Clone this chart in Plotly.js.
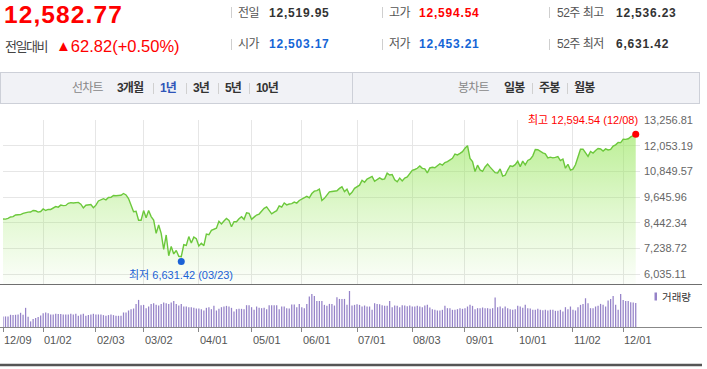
<!DOCTYPE html>
<html><head><meta charset="utf-8">
<script src="https://cdn.plot.ly/plotly-3.0.1.min.js"></script>
<style>
html,body{margin:0;padding:0;background:#fff;width:707px;height:369px;overflow:hidden;}
#chart{position:absolute;left:0;top:0;width:707px;height:369px;}
.t{position:absolute;white-space:nowrap;line-height:1;font-family:"Liberation Sans","Noto Sans CJK KR",sans-serif;z-index:5;}
.sep{position:absolute;width:1px;background:#cfcfcf;z-index:5;}
.lab{font-size:12px;color:#555;letter-spacing:-0.5px;}
.val{font-size:12px;font-weight:bold;letter-spacing:0.8px;}
#tabs{position:absolute;left:0;top:72px;width:700px;height:32px;box-sizing:border-box;background:#f1f2f6;border:1px solid #cdd0d8;z-index:4;}
.tab{font-size:12px;font-weight:bold;color:#333;letter-spacing:-0.8px;}
.tabg{font-size:12px;color:#888;letter-spacing:-0.8px;}
</style></head><body>
<div id="chart"></div>
<div id="header"></div>
<div id="tabs"></div>
<script>
// ---------- header values ----------
const lastPrice = "12,582.77";
const changeText = "62.82(+0.50%)";
const prevClose = "12,519.95";
const openPrice = "12,503.17";
const dayHigh = "12,594.54";
const dayLow = "12,453.21";
const high52 = "12,536.23";
const low52 = "6,631.42";
const rangeTabs = ["3개월", "1년", "3년", "5년", "10년"];
const candleTabs = ["일봉", "주봉", "월봉"];

// ---------- chart data ----------
const dates = [
"12/09","12/10","12/11","12/12","12/13","12/16","12/17","12/18","12/19","12/20","12/23","12/24","12/26","12/27","12/30","12/31",
"01/02","01/03","01/06","01/07","01/08","01/09","01/10","01/13","01/14","01/15","01/16","01/17","01/21","01/22","01/23","01/24","01/27","01/28","01/29","01/30","01/31",
"02/03","02/04","02/05","02/06","02/07","02/10","02/11","02/12","02/13","02/14","02/18","02/19","02/20","02/21","02/24","02/25","02/26","02/27","02/28",
"03/02","03/03","03/04","03/05","03/06","03/09","03/10","03/11","03/12","03/13","03/16","03/17","03/18","03/19","03/20","03/23","03/24","03/25","03/26","03/27","03/30","03/31",
"04/01","04/02","04/03","04/06","04/07","04/08","04/09","04/13","04/14","04/15","04/16","04/17","04/20","04/21","04/22","04/23","04/24","04/27","04/28","04/29","04/30",
"05/01","05/04","05/05","05/06","05/07","05/08","05/11","05/12","05/13","05/14","05/15","05/18","05/19","05/20","05/21","05/22","05/26","05/27","05/28","05/29",
"06/01","06/02","06/03","06/04","06/05","06/08","06/09","06/10","06/11","06/12","06/15","06/16","06/17","06/18","06/19","06/22","06/23","06/24","06/25","06/26","06/29","06/30",
"07/01","07/02","07/06","07/07","07/08","07/09","07/10","07/13","07/14","07/15","07/16","07/17","07/20","07/21","07/22","07/23","07/24","07/27","07/28","07/29","07/30","07/31",
"08/03","08/04","08/05","08/06","08/07","08/10","08/11","08/12","08/13","08/14","08/17","08/18","08/19","08/20","08/21","08/24","08/25","08/26","08/27","08/28","08/31",
"09/01","09/02","09/03","09/04","09/08","09/09","09/10","09/11","09/14","09/15","09/16","09/17","09/18","09/21","09/22","09/23","09/24","09/25","09/28","09/29","09/30",
"10/01","10/02","10/05","10/06","10/07","10/08","10/09","10/12","10/13","10/14","10/15","10/16","10/19","10/20","10/21","10/22","10/23","10/26","10/27","10/28","10/29","10/30",
"11/02","11/03","11/04","11/05","11/06","11/09","11/10","11/11","11/12","11/13","11/16","11/17","11/18","11/19","11/20","11/23","11/24","11/25","11/27","11/30",
"12/01","12/02","12/03","12/04","12/07","12/08"];

const closes = [
8621,8616,8654,8717,8735,8814,8823,8827,8887,8925,8945,8952,9022,9007,8945,8973,
9093,9021,9071,9069,9129,9203,9179,9274,9251,9259,9357,9389,9370,9383,9402,9315,9139,9270,9275,9298,9151,
9273,9467,9509,9572,9520,9628,9638,9726,9711,9731,9733,9817,9751,9577,9221,8966,8980,8566,8567,
9018,8684,9019,8738,8576,7950,8344,7952,7201,7875,6905,7335,6990,7150,6880,6861,7418,7385,7798,7502,7774,7700,
7360,7487,7374,7913,7887,8091,8153,8193,8516,8394,8533,8650,8561,8263,8495,8494,8634,8730,8607,8915,8890,
8605,8711,8810,8855,8979,9121,9192,9002,8863,8943,9015,9235,9185,9375,9285,9325,9340,9413,9369,9490,
9552,9608,9683,9616,9815,9925,9953,10020,9493,9589,9726,9895,9911,9943,9946,10056,10131,9909,10017,9757,9874,10059,
10155,10208,10434,10344,10492,10548,10617,10391,10488,10550,10474,10503,10767,10681,10706,10462,10363,10536,10402,10543,10588,10745,
10903,10941,10998,11108,10995,10968,10782,11012,11042,11019,11129,11210,11146,11265,11312,11379,11466,11665,11625,11696,11775,
11939,12056,11458,11313,10848,11142,10919,10854,11057,11191,11051,10910,10794,10779,10964,10633,10672,10914,11118,11086,11168,
11327,11076,11332,11155,11365,11421,11580,11876,11864,11768,11714,11672,11479,11517,11485,11506,11548,11358,11432,10999,11186,10912,
10958,11161,11591,11891,11895,11714,11554,11787,11710,11830,11925,11900,11802,11905,11855,11881,12037,12094,12206,12199,
12355,12349,12377,12464,12519,12583];

const volumes = [
2400,2400,2400,2775,2700,2775,2850,3225,2775,4350,2325,1275,1800,2025,2250,2625,
3150,3300,3150,2850,2850,3000,2925,2925,2850,2850,2850,3000,2850,3000,2550,2850,3000,2550,2700,2850,3000,
2850,2850,2850,2700,2550,2700,2850,2700,2550,2550,2550,3300,3300,3750,4050,4200,5250,6150,4950,
5025,4275,4650,5250,5400,5025,4875,5250,5550,5400,5250,5550,5925,5250,4875,5250,4650,4650,4500,4500,4350,4200,
4200,4050,3750,4350,4500,4050,4800,3750,4125,4500,4650,4800,4650,4350,3525,4050,4125,4125,4050,4950,4950,
4500,3900,4650,4350,4275,4350,4050,4950,4950,4950,4950,4050,4650,4650,4275,4200,5100,5100,4500,5250,
4500,4275,5250,6900,7500,7050,5925,5925,5925,5025,4800,5250,5250,4875,6750,6375,6375,6375,5025,8175,4875,5025,
5175,5025,4650,4875,4650,4650,3900,5400,5250,5175,4950,4800,4800,5925,4500,4875,4800,4500,4950,4875,4725,4875,
4650,4650,4800,4650,4500,4875,5025,4425,4050,3900,3750,3750,3900,4800,4275,4275,3900,3900,4050,4275,4125,
4275,4650,5025,4800,4050,4275,4275,4425,4275,4275,4125,4275,6675,4500,4650,4275,4650,4275,4050,3900,4050,
4800,4650,4350,5025,4275,4200,3900,3900,4125,3900,3825,3900,3750,3900,3900,3675,3675,3900,3525,4500,4050,4650,
3900,3750,4500,5025,5250,6525,5400,4275,4275,4650,4800,5250,5025,4650,6000,6375,7050,5025,3900,7500,
6150,5925,5925,5625,5550,5475];

const yTicks = [6035.11, 7238.72, 8442.34, 9645.96, 10849.57, 12053.19, 13256.81];
const highValue = 12594.54, highDate = "12/08";
const lowValue = 6631.42, lowDate = "03/23";

// ---------- HTML header ----------
function el(parent, cls, style, html){const d=document.createElement('div');d.className=cls;d.style.cssText=style;d.innerHTML=html;parent.appendChild(d);return d;}
const H = document.getElementById('header');
el(H,'t','left:4px;top:2.6px;font-size:24.5px;font-weight:bold;color:#f00;letter-spacing:1.1px',lastPrice);
el(H,'t','left:5px;top:39.5px;font-size:13px;color:#444;letter-spacing:-1.5px','전일대비');
el(H,'t','left:56px;top:37.7px;font-size:16.5px;color:#f00','<span style="font-size:15px;position:relative;top:-0.5px">▲</span>'+changeText);
const cols = [
  {sep:231, lx:238, vx:269, r:[["전일",prevClose,"#333"],["시가",openPrice,"#1465d6"]]},
  {sep:382, lx:389, vx:419, r:[["고가",dayHigh,"#f00"],["저가",dayLow,"#1465d6"]]},
  {sep:549, lx:557, vx:616, r:[["52주 최고",high52,"#333"],["52주 최저",low52,"#333"]]}
];
const rowTop=[7.1,38.1], sepTop=[7,39];
cols.forEach(c=>{
  c.r.forEach((r,i)=>{
    el(H,'sep','left:'+c.sep+'px;top:'+sepTop[i]+'px;height:11px','');
    el(H,'t lab','left:'+c.lx+'px;top:'+rowTop[i]+'px',r[0]);
    el(H,'t val','left:'+c.vx+'px;top:'+rowTop[i]+'px;color:'+r[2],r[1]);
  });
});
// tabs
const T = document.getElementById('tabs');
const tabTop = 82.2-73;
el(T,'t tabg','left:71px;top:'+tabTop+'px','선차트');
const rx=[116,159,192,224,255];
rangeTabs.forEach((s,i)=>{
  el(T,'t tab','left:'+rx[i]+'px;top:'+tabTop+'px;'+(s==="1년"?'color:#2f55b8':''),s);
  if(i>0) el(T,'sep','left:'+(rx[i]-7)+'px;top:'+(tabTop+0.5)+'px;height:11px;background:#d0d0d0','');
});
el(T,'sep','left:351px;top:0;height:30px;background:#cdd0d8','');
el(T,'t tabg','left:457px;top:'+tabTop+'px','봉차트');
const cx=[503,538,573];
candleTabs.forEach((s,i)=>{
  el(T,'t tab','left:'+cx[i]+'px;top:'+tabTop+'px',s);
  if(i>0) el(T,'sep','left:'+(cx[i]-7)+'px;top:'+(tabTop+0.5)+'px;height:11px;background:#d0d0d0','');
});

// ---------- Plotly chart ----------
const W=707, Hh=369;
const px = v=>v/W, py = v=>1-v/Hh;
const idx = dates.map((d,i)=>i);
const monthIdx = idx.filter(i=>i===0 || dates[i].slice(0,2)!==dates[i-1].slice(0,2));
const monthLabels = monthIdx.map(i=>dates[i]);
const fmt = v=>v.toLocaleString('en-US',{minimumFractionDigits:2,maximumFractionDigits:2});
const lowIdx = dates.indexOf(lowDate);
const highIdx = dates.indexOf(highDate);
const yBottom = 5581.1;
const font = "Liberation Sans, Noto Sans CJK KR, sans-serif";
const xr = [0, 253.7];

const traces = [
  {type:'scatter', mode:'lines', x:idx, y:closes, xaxis:'x', yaxis:'y',
   line:{color:'#6cc83c', width:1.4}, fill:'tozeroy',
   fillgradient:{type:'vertical', start:yBottom, stop:Math.max(...closes),
     colorscale:[[0,'rgba(150,230,90,0.03)'],[0.5,'rgba(150,230,90,0.3)'],[1,'rgba(150,230,90,0.63)']]},
   hoverinfo:'skip'},
  {type:'scatter', mode:'markers', x:[lowIdx], y:[lowValue], xaxis:'x', yaxis:'y',
   marker:{color:'#1b62d6', size:7}, cliponaxis:false, hoverinfo:'skip'},
  {type:'scatter', mode:'markers', x:[highIdx], y:[highValue], xaxis:'x', yaxis:'y',
   marker:{color:'#ff0000', size:7}, cliponaxis:false, hoverinfo:'skip'},
  {type:'bar', x:idx, y:volumes, xaxis:'x2', yaxis:'y2', width:0.5,
   marker:{color:'#9582c8', line:{width:0}}, hoverinfo:'skip'}
];

const monthAnns = monthIdx.map((i,k)=>({xref:'x2', yref:'paper', x:i, y:py(339.5), xanchor:'left', yanchor:'middle',
  xshift:-1, showarrow:false, text:monthLabels[k], font:{family:font, size:11, color:'#555'}}));

const layout = {
  width:W, height:Hh, autosize:false, showlegend:false,
  margin:{l:0,r:0,t:0,b:0,pad:0},
  paper_bgcolor:'#fff', plot_bgcolor:'rgba(0,0,0,0)',
  xaxis:{domain:[px(3),px(640)], range:xr, tickvals:monthIdx, showticklabels:false,
    showgrid:true, gridcolor:'#e6e6e6', gridwidth:1, ticks:'', zeroline:false, showline:false, fixedrange:true},
  yaxis:{domain:[py(284),py(120)], range:[yBottom, yTicks[yTicks.length-1]], side:'right',
    tickvals:yTicks, ticktext:yTicks.map(fmt), showgrid:true, gridcolor:'#e6e6e6', gridwidth:1,
    zeroline:false, showline:false, ticks:'', ticklabelstandoff:3,
    tickfont:{family:font, size:11, color:'#666'}, fixedrange:true},
  xaxis2:{domain:[px(3),px(640)], range:xr, anchor:'y2', tickvals:monthIdx, showticklabels:false,
    ticks:'outside', ticklen:4, tickcolor:'#888', tickwidth:1, showgrid:false, zeroline:false, showline:false,
    fixedrange:true},
  yaxis2:{domain:[py(327),py(290)], range:[0,8400], anchor:'x2', showgrid:false, zeroline:false,
    showticklabels:false, showline:false, ticks:'', fixedrange:true},
  shapes:[
    {type:'line', xref:'paper', yref:'paper', x0:0, x1:px(702), y0:py(284.5), y1:py(284.5), line:{color:'#6f6f6f', width:1}},
    {type:'line', xref:'paper', yref:'paper', x0:0, x1:px(702), y0:py(327.5), y1:py(327.5), line:{color:'#888', width:1}},
    {type:'line', xref:'paper', yref:'paper', x0:0, x1:px(702), y0:py(365), y1:py(365), line:{color:'#555', width:2.5}},
    {type:'rect', xref:'paper', yref:'paper', x0:px(654.5), x1:px(657), y0:py(300.5), y1:py(292.5), line:{width:0}, fillcolor:'#9582c8'}
  ],
  annotations:[
    {xref:'x', yref:'y', x:lowIdx, y:lowValue, showarrow:false, yanchor:'top', yshift:-5,
     text:'최저 '+fmt(lowValue)+' ('+lowDate+')', font:{family:font, size:11, color:'#1b62d6'}},
    {xref:'x', yref:'y', x:highIdx, y:highValue, showarrow:false, xanchor:'right', yanchor:'bottom', xshift:4, yshift:6,
     text:'최고 '+fmt(highValue)+' ('+highDate+')', font:{family:font, size:11, color:'#f00'}},
    {xref:'paper', yref:'paper', x:px(659.5), y:py(297), xanchor:'left', yanchor:'middle', showarrow:false,
     text:'거래량', font:{family:font, size:10.5, color:'#333'}}
  ].concat(monthAnns)
};
Plotly.newPlot('chart', traces, layout, {staticPlot:true, displayModeBar:false});
</script>
</body></html>
